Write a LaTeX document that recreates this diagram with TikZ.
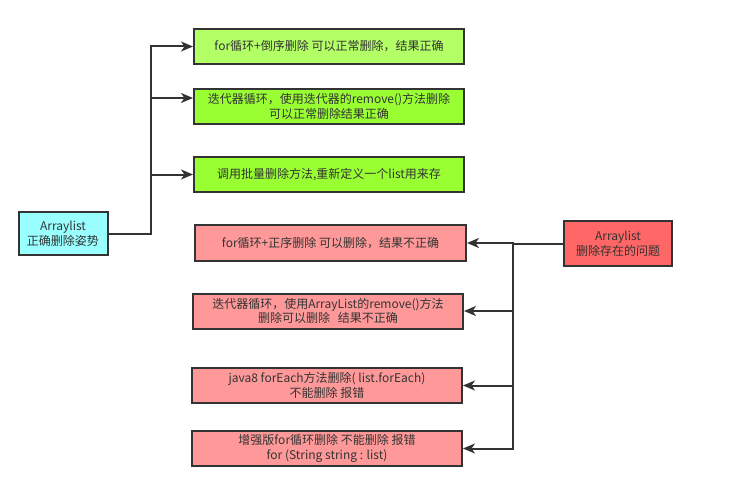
\documentclass[tikz,border=0pt]{standalone}
\usepackage{fontspec}
\setmainfont{Noto Sans CJK SC}
\usetikzlibrary{arrows.meta}
\definecolor{edgegray}{HTML}{333333}
\definecolor{okcyan}{HTML}{99FFFF}
\definecolor{okgreen}{HTML}{B3FF66}
\definecolor{okgreendark}{HTML}{99FF33}
\definecolor{badred}{HTML}{FF6666}
\definecolor{badpink}{HTML}{FF9999}
\begin{document}
\begin{tikzpicture}[x=1pt,y=-1pt,
        box/.style={draw=edgegray, line width=2pt, align=center, inner sep=0pt,
            text=edgegray, font=\fontsize{12}{14.5}\selectfont},
        conn/.style={draw=edgegray, line width=2pt,
            -{Stealth[length=12pt,width=10pt,inset=3.5pt]}}]
    \fill[white] (0,0) rectangle (732,487);

    \node[box, fill=okcyan, minimum width=89pt, minimum height=43pt] (ok) at (63,233.5) {Arraylist\\正确删除姿势};
    \node[box, fill=okgreen, minimum width=270pt, minimum height=35pt] (g1) at (329,46.5) {for循环+倒序删除 可以正常删除，结果正确};
    \node[box, fill=okgreendark, minimum width=270pt, minimum height=35pt] (g2) at (329,106.5) {迭代器循环，使用迭代器的remove()方法删除\\可以正常删除结果正确};
    \node[box, fill=okgreendark, minimum width=270pt, minimum height=35pt] (g3) at (329,174.5) {调用批量删除方法,重新定义一个list用来存};

    \node[box, fill=badred, minimum width=108pt, minimum height=45pt] (bad) at (618,243.5) {Arraylist\\删除存在的问题};
    \node[box, fill=badpink, minimum width=271pt, minimum height=36pt] (r1) at (330.5,243) {for循环+正序删除 可以删除，结果不正确};
    \node[box, fill=badpink, minimum width=270pt, minimum height=35pt] (r2) at (328,311) {迭代器循环，使用ArrayList的remove()方法\\删除可以删除\hspace{8pt}结果不正确};
    \node[box, fill=badpink, minimum width=270pt, minimum height=35pt] (r3) at (327,385.5) {java8 forEach方法删除( list.forEach)\\不能删除 报错};
    \node[box, fill=badpink, minimum width=270pt, minimum height=35pt] (r4) at (327,448.5) {增强版for循环删除 不能删除 报错\\for (String string : list)};

    \path (ok.east) ++(42,0) coordinate (okfork);
    \path (bad.west) ++(-50,0) coordinate (badfork);

    \draw[conn] (ok.east) -- (okfork) |- (g1.west);
    \draw[conn] (okfork) |- ([yshift=8.5pt]g2.west);
    \draw[conn] (okfork) |- (g3.west);

    \draw[conn] (bad.west) -- (badfork) |- (r1.east);
    \draw[conn] (badfork) |- (r2.east);
    \draw[conn] (badfork) |- (r3.east);
    \draw[conn] (badfork) |- (r4.east);
\end{tikzpicture}
\end{document}
